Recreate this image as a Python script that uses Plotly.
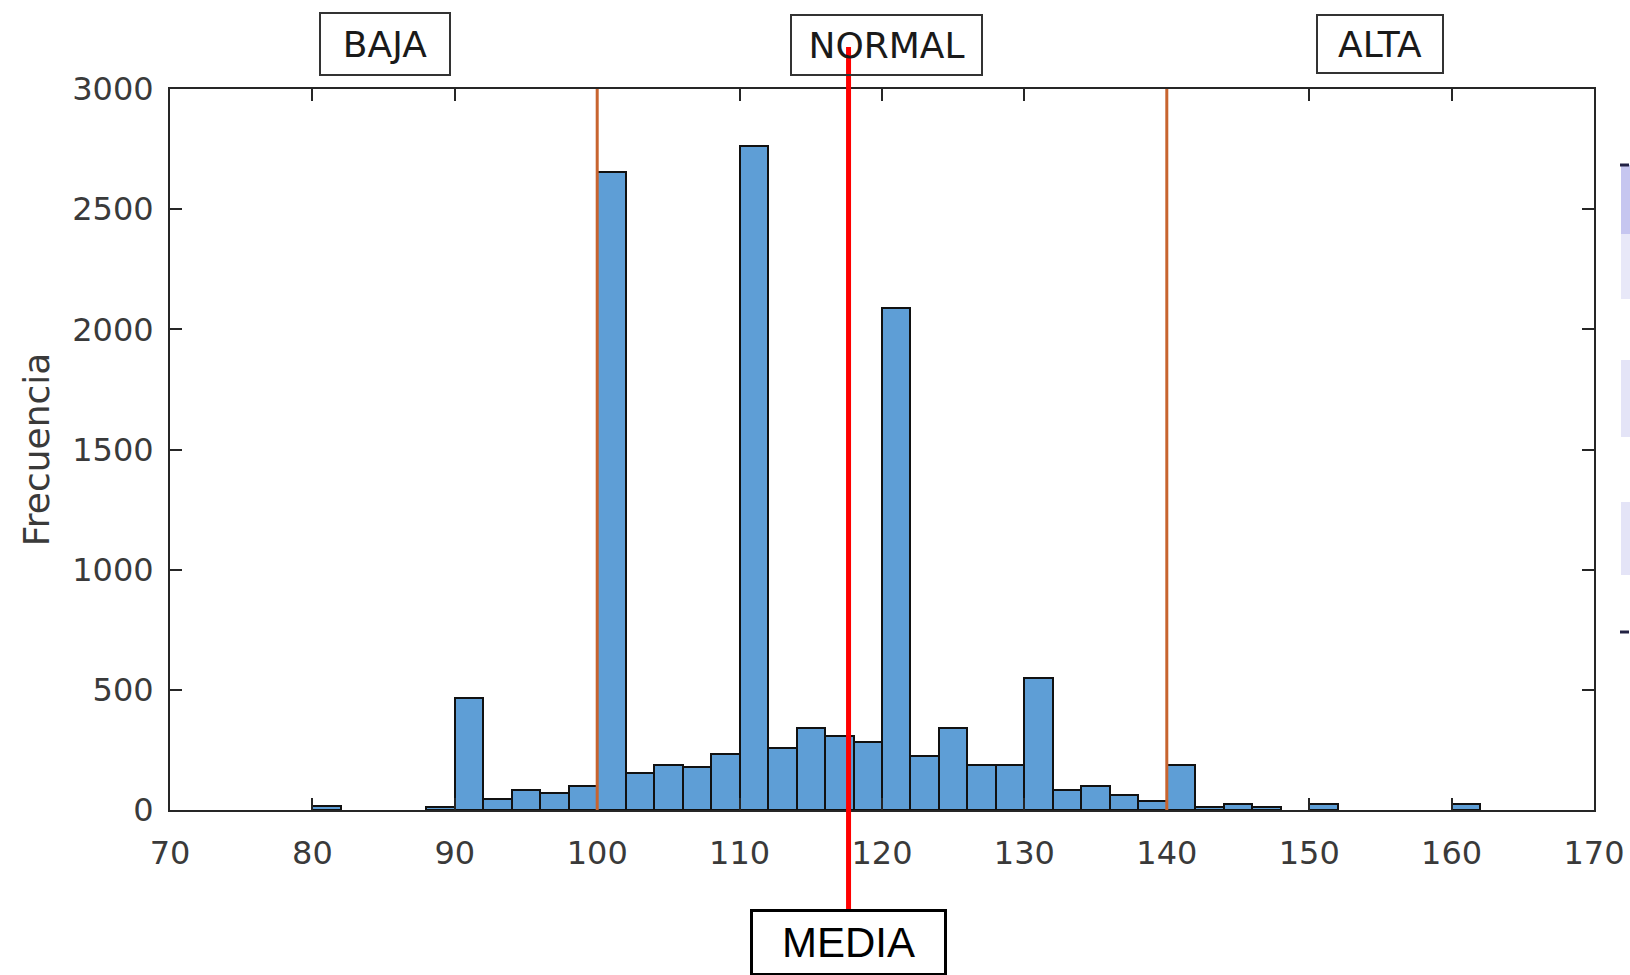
import plotly.graph_objects as go

# ---- data ----
bin_start = [80, 88, 90, 92, 94, 96, 98, 100, 102, 104, 106, 108, 110, 112, 114,
             116, 118, 120, 122, 124, 126, 128, 130, 132, 134, 136, 138, 140,
             142, 144, 146, 150, 160]
counts = [15, 12, 468, 47, 84, 71, 98, 2656, 156, 188, 179, 234, 2762, 258, 341,
          306, 281, 2088, 223, 341, 188, 188, 549, 84, 98, 61, 36, 188,
          12, 25, 12, 25, 25]
bin_width = 2

limits = [100, 140]          # orange threshold lines
media_value = 117.65         # red mean line
class_labels = ["BAJA", "NORMAL", "ALTA"]
class_x = [85.11, 120.29, 154.97]

x_ticks = list(range(70, 171, 10))
y_ticks = list(range(0, 3001, 500))

# plot-area geometry (layout pixels)
L, R, T, B = 170, 1594, 89, 810
W, H = R - L, B - T

def px_y(py):
    return (B - py) / H

def px_x(px):
    return (px - L) / W

AX = "#262626"
TICK_FONT = dict(family="DejaVu Sans", size=32, color="#3a3a3a")

fig = go.Figure()
fig.add_trace(go.Bar(
    x=bin_start, y=counts, width=bin_width, offset=0,
    marker=dict(color="#5E9ED6", line=dict(color="#111111", width=2)),
    hoverinfo="x+y", showlegend=False,
))

shapes = []
for v in limits:
    shapes.append(dict(type="line", xref="x", yref="y", x0=v, x1=v, y0=0, y1=3000,
                       line=dict(color="#C8642F", width=3), layer="above"))
shapes.append(dict(type="line", xref="x", yref="paper", x0=media_value, x1=media_value,
                   y0=px_y(911), y1=px_y(47), line=dict(color="#FF0000", width=5), layer="above"))

# faint clipped artefacts at the right edge of the source image
deco = [(165, 234, "#C6C6F0"), (234, 299, "#E8E8F8"), (360, 437, "#E4E4F7"), (502, 575, "#E4E4F7")]
for y0, y1, c in deco:
    shapes.append(dict(type="rect", xref="paper", yref="paper",
                       x0=px_x(1621), x1=px_x(1630),
                       y0=px_y(y1), y1=px_y(y0),
                       line=dict(width=0), fillcolor=c, layer="above"))
for yy in (165, 632):
    shapes.append(dict(type="line", xref="paper", yref="paper",
                       x0=px_x(1620), x1=px_x(1629),
                       y0=px_y(yy), y1=px_y(yy),
                       line=dict(color="#222244", width=3), layer="above"))

annotations = []
box_w = [128, 189, 124]
box_h = [60, 58, 56]
box_cy = [43.7, 44.7, 43.7]
for lab, xv, w, h, cy in zip(class_labels, class_x, box_w, box_h, box_cy):
    annotations.append(dict(
        text=lab, x=xv, xref="x", y=px_y(cy), yref="paper", showarrow=False,
        xanchor="center", yanchor="middle", width=w, height=h,
        font=dict(family="DejaVu Sans", size=36, color="#1a1a1a"),
        bordercolor="#333333", borderwidth=2, borderpad=0,
        bgcolor="rgba(0,0,0,0)"))
annotations.append(dict(
    text="MEDIA", x=media_value, xref="x", y=px_y(943), yref="paper", showarrow=False,
    xanchor="center", yanchor="middle", width=191, height=61,
    font=dict(family="Liberation Sans", size=42, color="black"),
    bordercolor="black", borderwidth=3, borderpad=0, bgcolor="white"))

fig.update_layout(
    width=1630, height=975,
    margin=dict(l=L, r=1630 - R, t=T, b=975 - B, pad=0, autoexpand=False),
    paper_bgcolor="white", plot_bgcolor="white",
    bargap=0,
    shapes=shapes, annotations=annotations,
    showlegend=False,
)
fig.update_xaxes(
    range=[70, 170], tickvals=x_ticks, ticktext=[str(t) for t in x_ticks],
    ticks="inside", ticklen=12, tickwidth=2, tickcolor=AX,
    showline=True, linecolor=AX, linewidth=2, mirror="ticks",
    showgrid=False, zeroline=False, tickfont=TICK_FONT, ticklabelstandoff=14,
    ticklabeloverflow="allow", automargin=False,
)
fig.update_yaxes(
    range=[0, 3000], tickvals=y_ticks, ticktext=[str(t) for t in y_ticks],
    ticks="inside", ticklen=12, tickwidth=2, tickcolor=AX,
    showline=True, linecolor=AX, linewidth=2, mirror="ticks",
    showgrid=False, zeroline=False, tickfont=TICK_FONT, ticklabelstandoff=8,
    ticklabeloverflow="allow", automargin=False,
    title=dict(text="Frecuencia", font=dict(family="DejaVu Sans", size=36, color="#3a3a3a"),
               standoff=12),
)

post = "document.body.style.margin='0';document.body.style.overflow='hidden';"
fig.write_html("out.html", config={"displayModeBar": False}, post_script=post)
